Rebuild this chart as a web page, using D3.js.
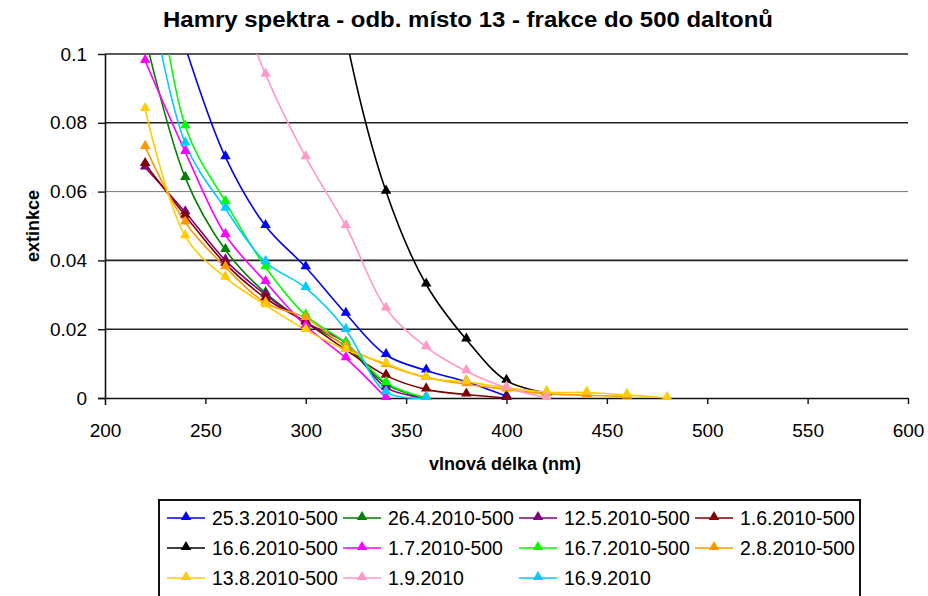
<!DOCTYPE html>
<html><head><meta charset="utf-8">
<script src="https://cdn.jsdelivr.net/npm/d3@7"></script>
<style>
html,body{margin:0;padding:0;background:#fff;}
text{font-family:"Liberation Sans",Arial,sans-serif;fill:#000;}
</style></head>
<body>
<svg id="chart" width="928" height="596"></svg>
<script>
const titleText = "Hamry spektra - odb. místo 13 - frakce do 500 daltonů";
const xTitle = "vlnová délka (nm)";
const yTitle = "extinkce";
const wavelengths = [220,240,260,280,300,320,340,360,380,400,420,440,460,480];
const xTicks = [200,250,300,350,400,450,500,550,600];
const yTicks = [0,0.02,0.04,0.06,0.08,0.1];
const yTickLabels = ["0","0.02","0.04","0.06","0.08","0.1"];

const seriesNames = ["25.3.2010-500","26.4.2010-500","12.5.2010-500","1.6.2010-500",
  "16.6.2010-500","1.7.2010-500","16.7.2010-500","2.8.2010-500",
  "13.8.2010-500","1.9.2010","16.9.2010"];
const seriesColors = ["#0000FF","#008000","#800080","#800000",
  "#000000","#FF00FF","#00FF00","#FF9900",
  "#FFCC00","#FF99CC","#00CCFF"];

const s25_3 = [0.14,0.102,0.070,0.050,0.038,0.0245,0.0125,0.008,0.0047,0.0005];
const s26_4 = [0.105,0.064,0.043,0.0305,0.022,0.015,0.004,0.0];
const s12_5 = [0.067,0.054,0.040,0.030,0.022,0.016,0.003,0.0];
const s1_6  = [0.068,0.053,0.039,0.029,0.022,0.014,0.0065,0.0025,0.001,0.0];
const s16_6 = [null,null,null,null,0.18,0.105,0.060,0.033,0.017,0.005,0.0015];
const s1_7  = [0.098,0.0715,0.0474,0.0337,0.021,0.0116,0.0];
const s16_7 = [0.15,0.079,0.057,0.038,0.024,0.016,0.0044,0.0];
const s2_8  = [0.073,0.051,0.038,0.0276,0.0233,0.015,0.0096,0.006,0.004,0.0025,0.0012,0.0008,0.0004];
const s13_8 = [0.084,0.047,0.035,0.027,0.0198,0.014,0.010,0.0058,0.0047,0.003,0.0017,0.0016,0.0009,0.0];
const s1_9  = [null,null,0.125,0.094,0.070,0.050,0.026,0.0148,0.0078,0.003,0.0];
const s16_9 = [0.125,0.074,0.055,0.0395,0.032,0.0198,0.0017,0.0];
const seriesValues = [s25_3,s26_4,s12_5,s1_6,s16_6,s1_7,s16_7,s2_8,s13_8,s1_9,s16_9];

const svg = d3.select("#chart");
const L = 105, R = 908, T = 54, B = 398;
const x = d3.scaleLinear().domain([200,600]).range([L,R]);
const y = d3.scaleLinear().domain([0,0.1]).range([B,T]);

// title
svg.append("text").attr("x",468).attr("y",27).attr("text-anchor","middle")
  .style("font-size","22px").style("font-weight","bold")
  .attr("textLength",610).attr("lengthAdjust","spacingAndGlyphs").text(titleText);

// gridlines
svg.append("g").selectAll("line").data(yTicks.filter(d=>d>0)).join("line")
  .attr("x1",L).attr("x2",R).attr("y1",d=>y(d)).attr("y2",d=>y(d))
  .attr("stroke",d=>d===0.06?"#777":"#222").attr("stroke-width",d=>d===0.06?1:1.6);

// axes
const xAxis = d3.axisBottom(x).tickValues(xTicks).tickSize(6).tickSizeOuter(0).tickPadding(20).tickFormat(d3.format("d"));
const gx = svg.append("g").attr("transform",`translate(0,${B})`).call(xAxis);
gx.select(".domain").attr("stroke","#111").attr("stroke-width",1.6).attr("d",`M${L-7},0.5H${R}`);
gx.selectAll(".tick line").attr("stroke","#111").attr("stroke-width",1.4);
gx.selectAll("text").style("font-size","19px").attr("fill","#000");
gx.selectAll(".tick").filter(d=>d===200).select("line").remove();

const yAxis = d3.axisLeft(y).tickValues(yTicks).tickSize(7).tickSizeOuter(0).tickPadding(11)
  .tickFormat((d,i)=>yTickLabels[i]);
const gy = svg.append("g").attr("transform",`translate(${L},0)`).call(yAxis);
gy.select(".domain").attr("stroke","#111").attr("stroke-width",1.6).attr("d",`M0.5,${T}V${B+7}`);
gy.selectAll(".tick line").attr("stroke","#111").attr("stroke-width",1.4);
gy.selectAll("text").style("font-size","19px").attr("fill","#000");

// axis titles
svg.append("text").attr("x",505).attr("y",470).attr("text-anchor","middle")
  .style("font-size","18px").style("font-weight","bold").text(xTitle);
svg.append("text").attr("transform","translate(39,226) rotate(-90)").attr("text-anchor","middle")
  .style("font-size","18px").style("font-weight","bold").text(yTitle);

// clip
svg.append("defs").append("clipPath").attr("id","plotclip")
  .append("rect").attr("x",L).attr("y",T).attr("width",R-L).attr("height",596-T);

const line = d3.line().defined(d=>d.v!==null && d.v!==undefined)
  .x(d=>x(d.w)).y(d=>y(d.v)).curve(d3.curveCatmullRom.alpha(0.5));
const tri = d3.symbol().type(d3.symbolTriangle).size(48);

const plot = svg.append("g").attr("clip-path","url(#plotclip)");
seriesValues.forEach((vals,i)=>{
  const pts = wavelengths.map((w,j)=>({w, v: j<vals.length ? vals[j] : null})).filter(p=>p.v!==null);
  plot.append("path").datum(pts).attr("d",line).attr("fill","none")
    .attr("stroke",seriesColors[i]).attr("stroke-width",1.6);
});
seriesValues.forEach((vals,i)=>{
  const pts = wavelengths.map((w,j)=>({w, v: j<vals.length ? vals[j] : null}))
    .filter(p=>p.v!==null && p.v<=0.1);
  svg.append("g").selectAll("path").data(pts).join("path")
    .attr("d",tri).attr("transform",p=>`translate(${x(p.w)},${y(p.v)-1})`)
    .attr("fill",seriesColors[i]);
});

// legend
const lg = svg.append("g");
lg.append("rect").attr("x",159).attr("y",500).attr("width",701).attr("height",120)
  .attr("fill","#fff").attr("stroke","#111").attr("stroke-width",2);
seriesNames.forEach((name,i)=>{
  const col = i%4, row = Math.floor(i/4);
  const lx = 167 + col*176, ly = 518 + row*30;
  const g = lg.append("g").attr("transform",`translate(${lx},${ly})`);
  g.append("line").attr("x1",0).attr("x2",38).attr("y1",0).attr("y2",0)
    .attr("stroke",seriesColors[i]).attr("stroke-width",1.6);
  g.append("path").attr("d",tri).attr("transform","translate(19,-1)").attr("fill",seriesColors[i]);
  g.append("text").attr("x",45).attr("y",7).style("font-size","19.5px").text(name);
});
</script>
</body></html>
